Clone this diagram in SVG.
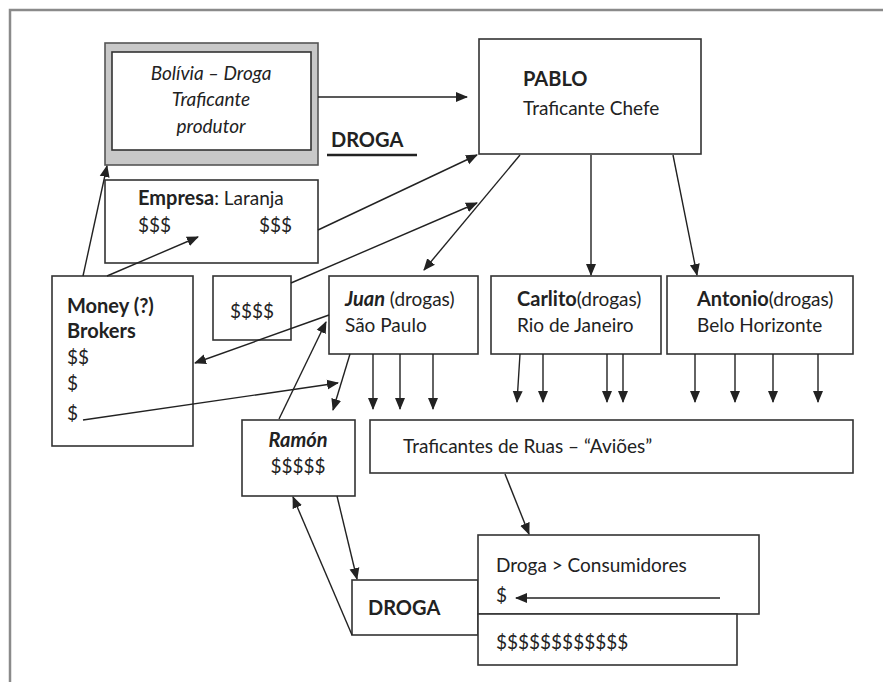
<svg xmlns="http://www.w3.org/2000/svg" width="883" height="682" viewBox="0 0 883 682">
<style>
text{font-family:Lato,"Open Sans","Liberation Sans",sans-serif;font-size:19px;fill:#222}
.b{font-weight:bold;font-size:20px}
.i{font-style:italic}
.box{fill:#fff;stroke:#333;stroke-width:1.6}
.ln{stroke:#222;stroke-width:1.4;fill:none;marker-end:url(#ah)}
</style>
<defs>
<marker id="ah" markerUnits="userSpaceOnUse" markerWidth="12" markerHeight="12" viewBox="0 0 12 12" refX="11" refY="6" orient="auto">
<path d="M0,1 L12,6 L0,11 Z" fill="#222"/>
</marker>
</defs>
<rect width="883" height="682" fill="#fff"/>
<path d="M10,682 V10 H883" fill="none" stroke="#8a8a8a" stroke-width="2.5"/>

<g id="bolivia">
<rect x="105" y="43" width="213" height="122" fill="#c8c8c8" stroke="#555" stroke-width="1.6"/>
<rect x="112" y="52" width="199" height="98" class="box"/>
<text x="211" y="80" text-anchor="middle" class="i">Bolívia – Droga</text>
<text x="211" y="106" text-anchor="middle" class="i">Traficante</text>
<text x="211" y="133" text-anchor="middle" class="i">produtor</text>
</g>
<g id="droga-label">
<text x="331" y="147" class="b">DROGA</text>
<line x1="327" y1="155" x2="417" y2="155" stroke="#222" stroke-width="2.5"/>
</g>
<g id="pablo">
<rect x="479" y="39" width="222" height="115" class="box"/>
<text x="523" y="86" class="b">PABLO</text>
<text x="523" y="115">Traficante Chefe</text>
</g>
<g id="empresa">
<rect x="105" y="180" width="213" height="83" class="box"/>
<text x="138" y="205"><tspan class="b">Empresa</tspan>: Laranja</text>
<text x="138" y="232">$$$</text>
<text x="259" y="232">$$$</text>
</g>
<g id="brokers">
<rect x="52" y="276" width="141" height="170" class="box"/>
<text x="67" y="313" class="b">Money (?)</text>
<text x="67" y="338" class="b">Brokers</text>
<text x="67" y="364">$$</text>
<text x="67" y="390">$</text>
<text x="67" y="420">$</text>
</g>
<g id="cash">
<rect x="213" y="276" width="78" height="64" class="box"/>
<text x="252" y="318" text-anchor="middle">$$$$</text>
</g>
<g id="juan">
<rect x="329" y="276" width="149" height="78" class="box"/>
<text x="345" y="306"><tspan class="b i">Juan</tspan> (drogas)</text>
<text x="345" y="332">São Paulo</text>
</g>
<g id="carlito">
<rect x="491" y="276" width="170" height="78" class="box"/>
<text x="517" y="306"><tspan class="b">Carlito</tspan>(drogas)</text>
<text x="517" y="332">Rio de Janeiro</text>
</g>
<g id="antonio">
<rect x="667" y="276" width="186" height="78" class="box"/>
<text x="697" y="306"><tspan class="b">Antonio</tspan>(drogas)</text>
<text x="697" y="332">Belo Horizonte</text>
</g>
<g id="ramon">
<rect x="242" y="420" width="113" height="76" class="box"/>
<text x="298" y="447" text-anchor="middle" class="b i">Ramón</text>
<text x="298" y="473" text-anchor="middle">$$$$$</text>
</g>
<g id="avioes">
<rect x="370" y="420" width="483" height="53" class="box"/>
<text x="403" y="453">Traficantes de Ruas – “Aviões”</text>
</g>
<g id="droga-box">
<rect x="352" y="580" width="126" height="55" class="box"/>
<text x="368" y="615" class="b">DROGA</text>
</g>
<g id="consumidores">
<rect x="478" y="535" width="281" height="79" class="box"/>
<text x="496" y="572">Droga &gt; Consumidores</text>
<text x="496" y="602">$</text>
</g>
<g id="dollars">
<rect x="478" y="614" width="259" height="51" class="box"/>
<text x="496" y="649">$$$$$$$$$$$$</text>
</g>

<g id="connectors">
<line class="ln" x1="318" y1="97" x2="467" y2="97"/>
<line class="ln" x1="83" y1="276" x2="107" y2="166"/>
<line class="ln" x1="107" y1="276" x2="198" y2="237"/>
<line class="ln" x1="318" y1="230" x2="477" y2="155"/>
<line class="ln" x1="291" y1="283" x2="477" y2="203"/>
<line class="ln" x1="520" y1="155" x2="424" y2="270"/>
<line class="ln" x1="591" y1="155" x2="591" y2="275"/>
<line class="ln" x1="673" y1="155" x2="697" y2="275"/>
<line class="ln" x1="329" y1="315" x2="195" y2="363"/>
<line class="ln" x1="83" y1="420" x2="338" y2="383"/>
<line class="ln" x1="279" y1="419" x2="326" y2="322"/>
<line class="ln" x1="350" y1="354" x2="333" y2="410"/>
<line class="ln" x1="373" y1="354" x2="373" y2="409"/>
<line class="ln" x1="400" y1="354" x2="400" y2="409"/>
<line class="ln" x1="433" y1="354" x2="433" y2="409"/>
<line class="ln" x1="520" y1="354" x2="517" y2="402"/>
<line class="ln" x1="543" y1="354" x2="543" y2="402"/>
<line class="ln" x1="607" y1="354" x2="607" y2="402"/>
<line class="ln" x1="623" y1="354" x2="623" y2="402"/>
<line class="ln" x1="695" y1="354" x2="695" y2="402"/>
<line class="ln" x1="735" y1="354" x2="735" y2="402"/>
<line class="ln" x1="773" y1="354" x2="773" y2="402"/>
<line class="ln" x1="818" y1="354" x2="818" y2="402"/>
<line class="ln" x1="505" y1="474" x2="529" y2="534"/>
<line class="ln" x1="720" y1="598" x2="516" y2="598"/>
<line class="ln" x1="337" y1="496" x2="357" y2="579"/>
<line class="ln" x1="352" y1="635" x2="293" y2="497"/>
</g>
</svg>
